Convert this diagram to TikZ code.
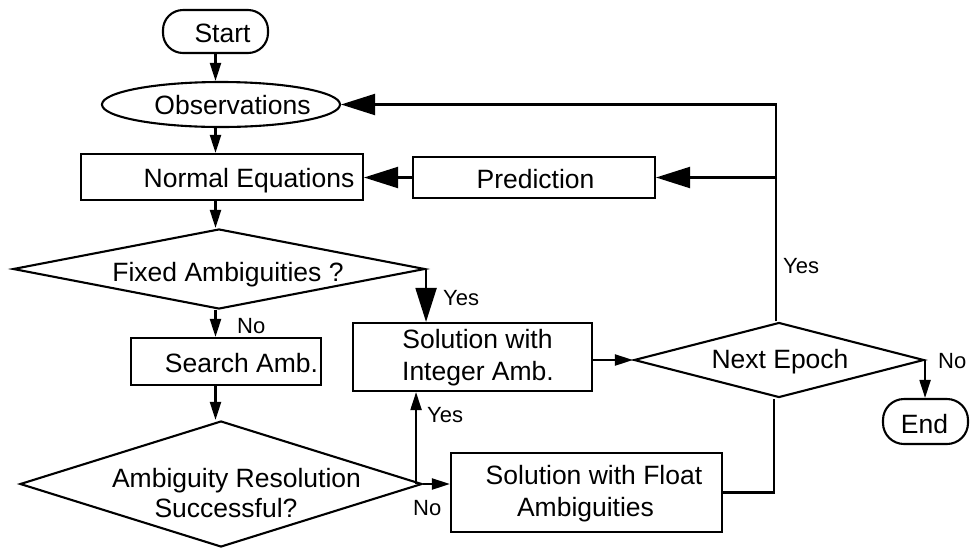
\documentclass[tikz,border=0pt]{standalone}
\usepackage{fontspec}
\setmainfont{Liberation Sans}
\usetikzlibrary{shapes.geometric,arrows.meta}
\begin{document}
\begin{tikzpicture}[x=1pt,y=-1pt,
  shp/.style={draw=black, line width=2.1pt, inner sep=0pt},
  rbox/.style={shp, rectangle},
  pill/.style={shp, rectangle, rounded corners=20pt},
  oval/.style={shp, ellipse},
  dia/.style={shp, diamond},
  txt/.style={inner sep=0pt, anchor=base, font=\fontsize{26.5}{30}\selectfont},
  lbl/.style={inner sep=0pt, anchor=base west, font=\fontsize{22}{26}\selectfont},
  con/.style={line width=2.1pt},
  arrS/.style={con, -{Triangle[length=18pt,width=11pt]}},
  arrB/.style={con, -{Triangle[length=34pt,width=21pt]}}
]
\useasboundingbox (0,0) rectangle (970,550);

% shapes
\node[pill, minimum width=105pt, minimum height=43pt] (start) at (215.5,31.5) {};
\node[oval, minimum width=238pt, minimum height=45pt] (obs) at (221,104.5) {};
\node[rbox, minimum width=282pt, minimum height=46pt] (normal) at (222,177) {};
\node[rbox, minimum width=242pt, minimum height=41pt] (pred) at (534,177.5) {};
\node[dia, minimum width=412pt, minimum height=80pt] (fixed) at (219,269) {};
\node[rbox, minimum width=190pt, minimum height=47pt] (search) at (226,361.5) {};
\node[dia, minimum width=402pt, minimum height=126pt] (ambig) at (221,484) {};
\node[rbox, minimum width=239pt, minimum height=68pt] (integer) at (472.5,357) {};
\node[rbox, minimum width=271pt, minimum height=79pt] (float) at (586.5,492.5) {};
\node[dia, minimum width=290pt, minimum height=75pt] (next) at (779,360) {};
\node[pill, minimum width=85pt, minimum height=45pt, rounded corners=21pt] (end) at (925.5,421.5) {};

% texts
\node[txt] (startT) at (222.5,42) {Start};
\node[txt] (obsT) at (232.5,114) {Observations};
\node[txt] (normalT) at (249,187) {Normal Equations};
\node[txt] (predT) at (535.5,188) {Prediction};
\node[txt] (fixedT) at (228,281) {Fixed Ambiguities ?};
\node[txt] (searchT) at (241.5,372) {Search Amb.};
\node[txt] (ambigT1) at (236.5,487) {Ambiguity Resolution};
\node[txt] (ambigT2) at (226,517) {Successful?};
\node[txt] (intT1) at (477.5,348) {Solution with};
\node[txt] (intT2) at (478,380) {Integer Amb.};
\node[txt] (floatT1) at (594,484) {Solution with Float};
\node[txt] (floatT2) at (585.5,516) {Ambiguities};
\node[txt] (nextT) at (780,368) {Next Epoch};
\node[txt] (endT) at (924.5,433) {End};

% labels
\node[lbl] (yes1) at (443,305) {Yes};
\node[lbl] (no1) at (237,333) {No};
\node[lbl] (yes2) at (427,422) {Yes};
\node[lbl] (no2) at (413,515) {No};
\node[lbl] (yes3) at (783,273) {Yes};
\node[lbl] (no3) at (938,368) {No};

% connectors
\coordinate (col) at (215.5,0);
\draw[arrS] (start.south) -- (start.south |- obs.north);
\draw[arrS] (col |- obs.south) -- (col |- normal.north);
\draw[arrS] (col |- normal.south) -- (col |- fixed.north);
\draw[arrS] (col |- fixed.south) -- (col |- search.north);
\draw[arrS] (col |- search.south) -- (col |- ambig.north);
\draw[arrB] (fixed.east) -- (fixed.east |- integer.north);
\draw[arrS] ([xshift=-7pt]ambig.east) -- ([xshift=-7pt]ambig.east |- integer.south);
\draw[arrS] (ambig.east) -- (ambig.east -| float.west);
\draw[arrS] (integer.east |- next.west) -- (next.west);
\draw[con] (float.east) -| ([xshift=-5pt]next.south);
\draw[arrB] ([xshift=-3pt]next.north) -- ([xshift=-3pt]next.north |- obs.east) -- (obs.east);
\draw[arrB] ([xshift=-3pt]next.north |- pred.east) -- (pred.east);
\draw[arrB] (pred.west) -- (pred.west -| normal.east);
\draw[arrS] (next.east) -- (next.east |- end.north);
\end{tikzpicture}
\end{document}
